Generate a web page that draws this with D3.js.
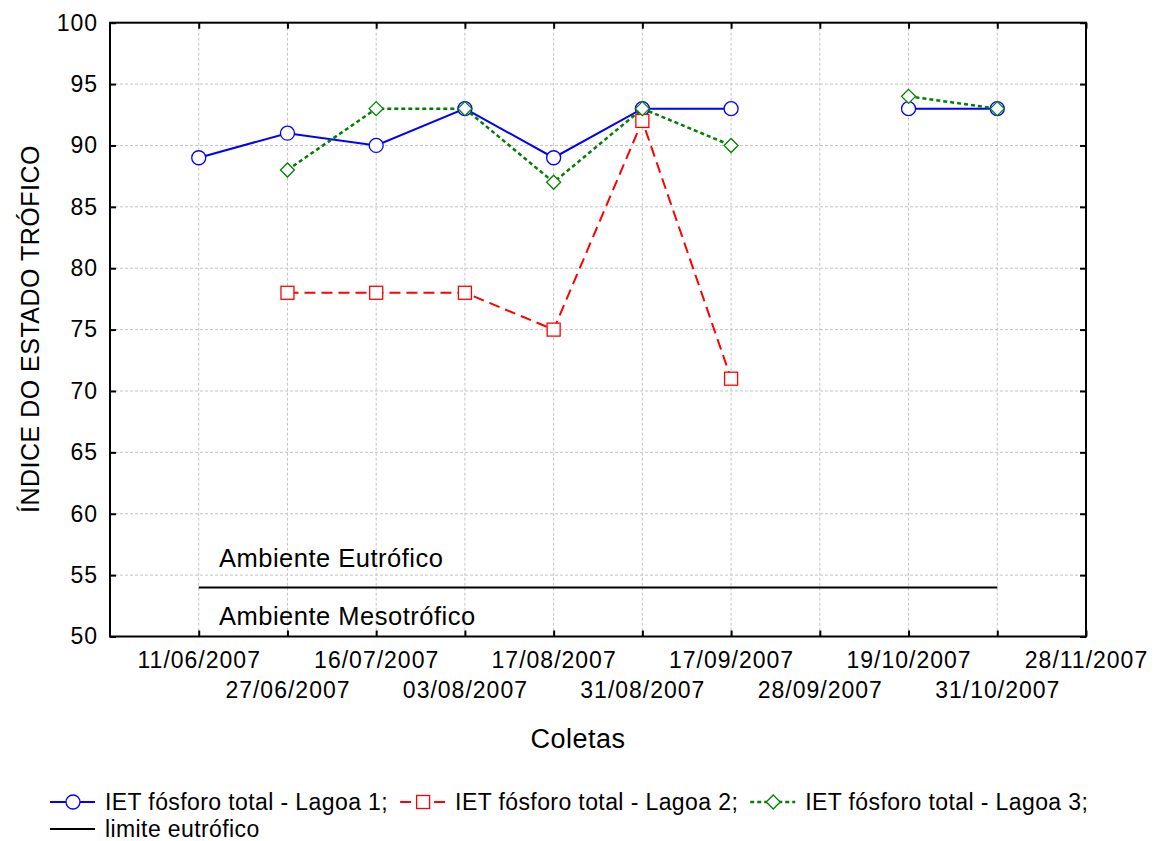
<!DOCTYPE html>
<html><head><meta charset="utf-8">
<script src="https://cdn.jsdelivr.net/npm/d3@7"></script>
<style>body{margin:0;background:#fff}svg{display:block}text{font-family:"Liberation Sans",Arial,sans-serif;fill:#000}</style>
</head><body><svg id="c" width="1163" height="841"></svg>
<script>
const categories = ["11/06/2007","27/06/2007","16/07/2007","03/08/2007","17/08/2007","31/08/2007","17/09/2007","28/09/2007","19/10/2007","31/10/2007","28/11/2007"];
const lagoa1 = [89, 91, 90, 93, 89, 93, 93, null, 93, 93, null];
const lagoa2 = [null, 78, 78, 78, 75, 92, 71, null, null, null, null];
const lagoa3 = [null, 88, 93, 93, 87, 93, 90, null, 94, 93, null];
const limiteEutrofico = 54;
const limiteRange = [1, 10];
const yTicks = [50,55,60,65,70,75,80,85,90,95,100];
const seriesNames = ["IET fósforo total - Lagoa 1;","IET fósforo total - Lagoa 2;","IET fósforo total - Lagoa 3;","limite eutrófico"];

const L=110, R=1086, T=22.7, B=636.5;
const svg=d3.select("#c");
const x=d3.scaleLinear().domain([0,11]).range([L,R]);
const y=d3.scaleLinear().domain([50,100]).range([B,T]);
const idx=categories.map((c,i)=>i+1);

// grid
const g=svg.append("g");
g.selectAll(".vg").data(idx.filter(i=>i<11)).join("line")
 .attr("x1",d=>x(d)).attr("x2",d=>x(d)).attr("y1",T).attr("y2",B)
 .attr("stroke","#c4c4c4").attr("stroke-width",1).attr("stroke-dasharray","3,2");
g.selectAll(".hg").data(yTicks.filter(v=>v>50&&v<100)).join("line")
 .attr("x1",L).attr("x2",R).attr("y1",d=>y(d)).attr("y2",d=>y(d))
 .attr("stroke","#c4c4c4").attr("stroke-width",1).attr("stroke-dasharray","3,2");

// axes
const fs=23;
const ax=svg.append("g").attr("transform",`translate(0,${B})`)
 .call(d3.axisBottom(x).tickValues(idx).tickFormat(i=>categories[i-1]).tickSize(-6).tickPadding(15));
ax.selectAll("text").style("font-size",fs+"px").style("letter-spacing","1px").attr("y",(d)=> d%2===1?15:45);
const ay=svg.append("g").attr("transform",`translate(${L},0)`)
 .call(d3.axisLeft(y).tickValues(yTicks).tickSize(-6).tickPadding(12));
ay.selectAll("text").style("font-size",fs+"px").style("letter-spacing","1px");
svg.append("g").attr("transform",`translate(${R},0)`).call(d3.axisRight(y).tickValues(yTicks).tickSize(-6).tickFormat(""));
svg.append("g").attr("transform",`translate(0,${T})`).call(d3.axisTop(x).tickValues(idx).tickSize(-6).tickFormat(""));
svg.selectAll(".domain").remove();
svg.selectAll(".tick line").attr("stroke","#000").attr("stroke-width",2);
svg.append("rect").attr("x",L).attr("y",T).attr("width",R-L).attr("height",B-T)
 .attr("fill","none").attr("stroke","#000").attr("stroke-width",2);

// annotations & limit line
svg.append("line").attr("x1",x(limiteRange[0])).attr("x2",x(limiteRange[1]))
 .attr("y1",y(limiteEutrofico)).attr("y2",y(limiteEutrofico)).attr("stroke","#000").attr("stroke-width",2);
svg.append("text").attr("x",219).attr("y",566.5).style("font-size","25.5px").style("letter-spacing","0.5px").text("Ambiente Eutrófico");
svg.append("text").attr("x",219).attr("y",625).style("font-size","25.5px").style("letter-spacing","0.5px").text("Ambiente Mesotrófico");

// titles
svg.append("text").attr("x",578).attr("y",748).attr("text-anchor","middle").style("font-size","27px").style("letter-spacing","0.5px").text("Coletas");
svg.append("text").attr("transform","translate(39,329) rotate(-90)").attr("text-anchor","middle").style("font-size","25px").style("letter-spacing","0.5px").text("ÍNDICE DO ESTADO TRÓFICO");

// series
const series=[
 {vals:lagoa1,color:"#0000ff",dash:null,w:2,shape:"circle"},
 {vals:lagoa2,color:"#ff0000",dash:"11,6",w:2,shape:"square"},
 {vals:lagoa3,color:"#008000",dash:"4,3",w:2.5,shape:"diamond"}
];
function marker(sel,shape,color){
  if(shape==="circle") sel.append("circle").attr("r",7);
  else if(shape==="square") sel.append("rect").attr("x",-6.5).attr("y",-6.5).attr("width",13).attr("height",13);
  else sel.append("path").attr("d","M0,-7L7,0L0,7L-7,0Z");
  sel.selectAll("*").attr("fill","#fff").attr("stroke",color).attr("stroke-width",1.3);
}
const line=d3.line().defined(d=>d.v!=null).x(d=>x(d.i)).y(d=>y(d.v));
series.forEach(s=>{
  const data=s.vals.map((v,k)=>({i:k+1,v}));
  svg.append("path").datum(data).attr("d",line).attr("fill","none").attr("stroke",s.color)
   .attr("stroke-width",s.w).attr("stroke-dasharray",s.dash);
  svg.selectAll(null).data(data.filter(d=>d.v!=null)).join("g")
   .attr("transform",d=>`translate(${x(d.i)},${y(d.v)})`).each(function(){marker(d3.select(this),s.shape,s.color);});
});

// legend
const leg=svg.append("g");
const legSeries=[series[0],series[1],series[2],{color:"#000",dash:null,w:2,shape:null}];
let lx=50, ly=802;
legSeries.forEach((s,k)=>{
  if(k===3){lx=50;ly=829;}
  const gi=leg.append("g").attr("transform",`translate(${lx},${ly})`);
  gi.append("line").attr("x1",0).attr("x2",45).attr("stroke",s.color).attr("stroke-width",s.w).attr("stroke-dasharray",s.dash);
  if(s.shape){const m=gi.append("g").attr("transform","translate(23,0)");marker(m,s.shape,s.color);}
  const t=gi.append("text").attr("x",55).attr("dy","0.35em").style("font-size","23px").style("letter-spacing","0.4px").text(seriesNames[k]);
  lx+=55+t.node().getComputedTextLength()+12;
});
</script></body></html>
